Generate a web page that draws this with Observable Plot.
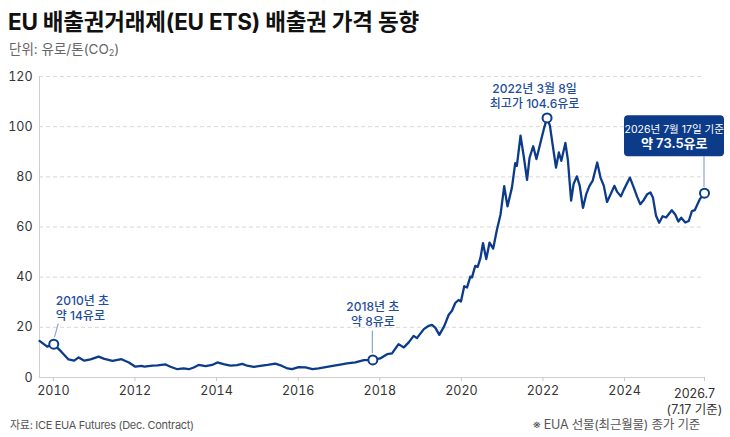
<!DOCTYPE html>
<html lang="ko">
<head>
<meta charset="utf-8">
<script src="https://cdn.jsdelivr.net/npm/d3@7"></script>
<script src="https://cdn.jsdelivr.net/npm/@observablehq/plot@0.6"></script>
<style>
  html, body { margin: 0; padding: 0; background: #ffffff; }
  body { width: 730px; height: 437px; position: relative; overflow: hidden;
         font-family: Inter, "Noto Sans CJK KR", sans-serif; }
  #title { position: absolute; left: 8px; top: 8px; font-size: 22.5px; font-weight: 700;
           color: #111; line-height: 28px; white-space: nowrap; letter-spacing: -0.2px; }
  #subtitle { position: absolute; left: 9px; top: 40px; font-size: 13.5px; color: #666;
              line-height: 18px; white-space: nowrap; }
  #subtitle sub { font-size: 9px; vertical-align: -2px; line-height: 0; }
  #chart { position: absolute; left: 0; top: 58px; }
  .foot { position: absolute; top: 417px; font-size: 11px; color: #555; line-height: 16px;
          white-space: nowrap; letter-spacing: -0.3px; }
  #source { left: 10px; }
  #note { left: 0; width: 700px; text-align: right; font-size: 12.5px; letter-spacing: -0.2px; }
</style>
</head>
<body>
<div id="title">EU 배출권거래제(EU ETS) 배출권 가격 동향</div>
<div id="subtitle">단위: 유로/톤(CO<sub>2</sub>)</div>
<div id="chart"></div>
<div class="foot" id="source">자료: ICE EUA Futures (Dec. Contract)</div>
<div class="foot" id="note">※ EUA 선물(최근월물) 종가 기준</div>
<script>
// ---- data (decimal year, EUR per tonne) ----
const years = [
  2009.66, 2009.85, 2010.01, 2010.20, 2010.37, 2010.51, 2010.62, 2010.76, 2010.91,
  2011.11, 2011.25, 2011.45, 2011.67, 2011.85, 2012.01, 2012.16, 2012.23, 2012.43,
  2012.55, 2012.75, 2012.87, 2013.04, 2013.19, 2013.32, 2013.44, 2013.56, 2013.73,
  2013.89, 2014.02, 2014.17, 2014.34, 2014.50, 2014.63, 2014.75, 2014.91, 2015.07,
  2015.25, 2015.44, 2015.59, 2015.74, 2015.85, 2016.01, 2016.18, 2016.35, 2016.50,
  2016.64, 2016.81, 2017.03, 2017.20, 2017.40, 2017.61, 2017.83, 2018.01, 2018.18,
  2018.30, 2018.46, 2018.59, 2018.71, 2018.83, 2018.91, 2019.08, 2019.20, 2019.28,
  2019.36, 2019.46, 2019.58, 2019.69, 2019.77, 2019.85, 2019.93, 2019.99, 2020.07,
  2020.14, 2020.22, 2020.26, 2020.34, 2020.40, 2020.47, 2020.53, 2020.61, 2020.69,
  2020.78, 2020.87, 2020.96, 2021.05, 2021.13, 2021.24, 2021.32, 2021.36, 2021.45,
  2021.53, 2021.61, 2021.67, 2021.76, 2021.84, 2021.95, 2022.02, 2022.10, 2022.17,
  2022.24, 2022.32, 2022.39, 2022.45, 2022.55, 2022.61, 2022.69, 2022.75, 2022.83,
  2022.90, 2022.98, 2023.06, 2023.14, 2023.22, 2023.33, 2023.41, 2023.49, 2023.57,
  2023.65, 2023.75, 2023.82, 2023.91, 2023.98, 2024.17, 2024.29, 2024.40, 2024.50,
  2024.61, 2024.72, 2024.82, 2024.90, 2025.00, 2025.10, 2025.21, 2025.32, 2025.50,
  2025.61, 2025.71, 2025.80, 2025.93, 2026.04, 2026.14, 2026.23, 2026.39, 2026.54
];
const prices = [
  14.6, 12.3, 13.3, 10.2, 7.2, 6.7, 8.0, 6.7, 7.2,
  8.3, 7.4, 6.6, 7.3, 6.0, 4.3, 4.6, 4.3, 4.7,
  4.8, 5.2, 4.3, 3.3, 3.6, 3.3, 4.0, 5.0, 4.5,
  5.0, 6.0, 5.3, 4.7, 4.9, 5.4, 4.7, 4.2, 4.6,
  5.0, 5.5, 4.7, 3.6, 3.3, 4.1, 4.0, 3.3, 3.6,
  4.0, 4.5, 5.1, 5.6, 6.0, 6.9, 7.0, 7.6, 9.3,
  9.6, 13.3, 12.0, 14.0, 16.6, 15.7, 19.3, 20.6, 21.0,
  19.9, 17.0, 20.5, 25.0, 26.6, 29.7, 30.9, 30.3, 36.4,
  35.9, 40.2, 39.9, 44.5, 44.1, 47.8, 53.6, 47.2, 53.8,
  51.4, 58.8, 65.0, 76.3, 68.2, 75.8, 85.5, 84.4, 96.4,
  88.0, 78.8, 87.5, 92.2, 87.1, 94.4, 99.0, 103.5, 100.4,
  92.5, 83.7, 89.7, 86.4, 93.5, 86.8, 70.5, 77.1, 80.2,
  76.5, 67.6, 73.1, 76.4, 78.5, 85.7, 79.7, 76.5, 70.0,
  72.8, 76.4, 74.0, 72.2, 74.8, 79.7, 75.8, 72.0, 69.1,
  70.8, 73.1, 73.8, 71.8, 64.5, 61.7, 64.3, 63.8, 66.7,
  65.0, 62.2, 63.7, 61.8, 62.4, 66.3, 66.7, 71.1, 73.5
];
const xTicks = [2010, 2012, 2014, 2016, 2018, 2020, 2022, 2024];
const xTickLabels = ["2010", "2012", "2014", "2016", "2018", "2020", "2022", "2024"];
const lastTick = 2026.54;
const lastTickLabel = "2026.7\n(7.17 기준)";
const yTicks = [0, 20, 40, 60, 80, 100, 120];

const noteYears = [2010.01, 2017.83, 2022.10];
const noteValues = [13.3, 7.0, 103.5];
const noteLabels = ["2010년 초\n약 14유로", "2018년 초\n약 8유로", "2022년 3월 8일\n최고가 104.6유로"];
const endYear = 2026.54;
const endValue = 73.5;
const endLabels = ["2026년 7월 17일 기준", "약 73.5유로"];

// ---- layout ----
const W = 730, H = 358;
const mL = 39, mR = 26, mT = 18, mB = 39;
const x0 = 2009.66;
const pxPerYear = 40.8;
const NAVY = "#0c3b8a";
const NOTE = "#1f4e9b";
const CONN = "#8ea6cb";

const series = years.map((t, i) => ({t, v: prices[i]}));
const notes = noteYears.map((t, i) => ({t, v: noteValues[i], label: noteLabels[i]}));
const endPt = [{t: endYear, v: endValue}];

function annotationShapes(index, {x, y}) {
  const g = d3.create("svg:g");
  // 2010 connector (slanted)
  const ax = x(notes[0].t), ay = y(notes[0].v);
  g.append("line").attr("x1", ax + 1.2).attr("y1", ay - 6.5).attr("x2", ax + 5).attr("y2", ay - 20)
    .attr("stroke", CONN).attr("stroke-width", 1.2);
  // 2018 connector (vertical)
  const bx = x(notes[1].t), by = y(notes[1].v);
  g.append("line").attr("x1", bx).attr("y1", by - 6.5).attr("x2", bx).attr("y2", by - 29)
    .attr("stroke", CONN).attr("stroke-width", 1.2);
  // end callout box and connector
  const ex = x(endYear), ey = y(endValue);
  g.append("rect").attr("x", ex - 80).attr("y", ey - 77.5).attr("width", 100).attr("height", 41)
    .attr("rx", 4).attr("fill", NAVY);
  g.append("line").attr("x1", ex).attr("y1", ey - 36.5).attr("x2", ex).attr("y2", ey - 6)
    .attr("stroke", CONN).attr("stroke-width", 1.2);
  return g.node();
}

const chart = Plot.plot({
  width: W,
  height: H,
  marginLeft: mL,
  marginRight: mR,
  marginTop: mT,
  marginBottom: mB,
  style: {fontFamily: 'Inter, "Noto Sans CJK KR", sans-serif', fontSize: "12px", background: "#fff", overflow: "visible"},
  x: {
    type: "linear",
    domain: [x0, 2024, lastTick],
    range: [mL, mL + (2024 - x0) * pxPerYear, W - mR]
  },
  y: {domain: [0, 120]},
  marks: [
    Plot.gridY(yTicks.filter(d => d > 0), {stroke: "#d9d9d9", strokeOpacity: 1, strokeDasharray: "4,3"}),
    Plot.frame({anchor: "left", stroke: "#cfcfcf"}),
    Plot.ruleY([0], {stroke: "#cfcfcf"}),
    Plot.axisY(yTicks, {tickSize: 0, tickPadding: 7, fill: "#333", fontSize: 12.5, label: null}),
    Plot.axisX(xTicks, {tickSize: 4, tickPadding: 5, stroke: "#c8c8c8", fill: "#333", fontSize: 12.5,
      tickFormat: (d) => xTickLabels[xTicks.indexOf(d)], label: null}),
    Plot.axisX([lastTick], {tickSize: 4, tickPadding: 5, stroke: "#c8c8c8", text: null, label: null}),
    Plot.text([lastTick], {x: d => d, frameAnchor: "bottom", text: () => lastTickLabel, dy: 9, dx: -10,
      lineAnchor: "top", lineHeight: 1.3, fill: "#333", fontSize: 12.5}),
    Plot.line(series, {x: "t", y: "v", stroke: NAVY, strokeWidth: 2.3, strokeLinejoin: "round", strokeLinecap: "round"}),
    annotationShapes,
    Plot.dot(notes, {x: "t", y: "v", r: 4.5, fill: "#fff", stroke: NAVY, strokeWidth: 2}),
    Plot.dot(endPt, {x: "t", y: "v", r: 4.5, fill: "#fff", stroke: NAVY, strokeWidth: 2}),
    Plot.text([notes[0]], {x: "t", y: "v", text: "label", textAnchor: "start", dx: 2, dy: -36,
      lineAnchor: "middle", lineHeight: 1.25, fill: NOTE, fontSize: 12, fontWeight: 500}),
    Plot.text([notes[1]], {x: "t", y: "v", text: "label", textAnchor: "middle", dx: 0, dy: -46,
      lineAnchor: "middle", lineHeight: 1.25, fill: NOTE, fontSize: 12, fontWeight: 500}),
    Plot.text([notes[2]], {x: "t", y: "v", text: "label", textAnchor: "middle", dx: -12.5, dy: -22,
      lineAnchor: "middle", lineHeight: 1.2, fill: NOTE, fontSize: 12, fontWeight: 500}),
    Plot.text(endPt, {x: "t", y: "v", text: () => endLabels[0], textAnchor: "middle", dx: -30.3, dy: -64,
      lineAnchor: "middle", fill: "#fff", fontSize: 10.5}),
    Plot.text(endPt, {x: "t", y: "v", text: () => endLabels[1], textAnchor: "middle", dx: -30.3, dy: -49.5,
      lineAnchor: "middle", fill: "#fff", fontSize: 13, fontWeight: 600})
  ]
});
document.getElementById("chart").appendChild(chart);
</script>
</body>
</html>
